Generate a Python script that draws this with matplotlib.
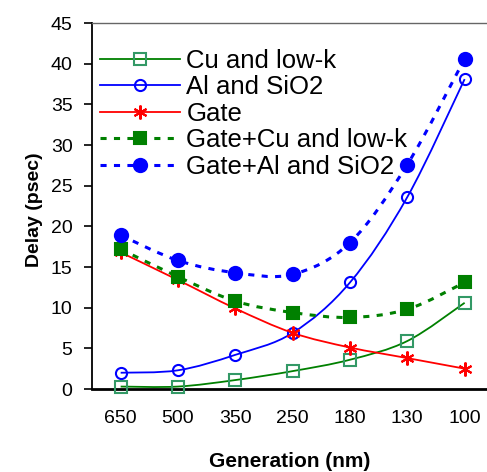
import matplotlib
matplotlib.use("Agg")
import matplotlib.pyplot as plt
import numpy as np
from matplotlib.path import Path
from matplotlib.patches import PathPatch
from matplotlib.lines import Line2D

plt.rcParams['font.family'] = ['Liberation Sans', 'DejaVu Sans']

generations = ['650', '500', '350', '250', '180', '130', '100']
cu_lowk = [0.3, 0.3, 1.1, 2.2, 3.6, 5.9, 10.6]
al_sio2 = [2.0, 2.3, 4.2, 6.9, 13.1, 23.6, 38.1]
gate = [16.8, 13.4, 9.9, 6.9, 5.1, 3.8, 2.5]
gate_cu = [17.2, 13.8, 10.8, 9.4, 8.8, 9.8, 13.1]
gate_al = [18.9, 15.8, 14.3, 14.1, 18.0, 27.6, 40.6]


def smooth_path(xs, ys):
    # Catmull-Rom style bezier, like Excel's smoothed lines
    pts = np.column_stack([xs, ys]).astype(float)
    n = len(pts)
    verts = [pts[0]]
    codes = [Path.MOVETO]
    for i in range(n - 1):
        p0 = pts[max(i - 1, 0)]
        p1 = pts[i]
        p2 = pts[i + 1]
        p3 = pts[min(i + 2, n - 1)]
        verts += [p1 + (p2 - p0) / 6, p2 - (p3 - p1) / 6, p2]
        codes += [Path.CURVE4] * 3
    return Path(verts, codes)


fig = plt.figure(figsize=(4.87, 4.72), dpi=100)
ax = fig.add_axes([92 / 487, 1 - 389 / 472, 1 - 92 / 487, 366 / 472])
x = np.arange(len(generations))

dash = (0, (2.0, 2.4))
series = [
    (cu_lowk, '#008000', '-', 1.3, 's', 8, 'none', '#339966', 'Cu and low-k'),
    (al_sio2, '#0000FF', '-', 1.3, 'o', 8, 'none', '#0000FF', 'Al and SiO2'),
    (gate, '#FF0000', '-', 1.3, (6, 2, 0), 10, '#FF0000', '#FF0000', 'Gate'),
    (gate_cu, '#008000', dash, 2.2, 's', 9, '#008000', '#008000', 'Gate+Cu and low-k'),
    (gate_al, '#0000FF', dash, 2.2, 'o', 9.5, '#0000FF', '#0000FF', 'Gate+Al and SiO2'),
]

handles = []
for vals, col, ls, lw, mk, ms, mfc, mec, lab in series:
    ax.add_patch(PathPatch(smooth_path(x, vals), fill=False, edgecolor=col,
                           linestyle=ls, linewidth=lw, zorder=2))
    ax.plot(x, vals, ls='none', marker=mk, markersize=ms, markerfacecolor=mfc,
            markeredgecolor=mec, markeredgewidth=1.5, zorder=3, clip_on=False)
    handles.append(Line2D([], [], color=col, linestyle=ls, linewidth=lw, marker=mk,
                          markersize=ms, markerfacecolor=mfc, markeredgecolor=mec,
                          markeredgewidth=1.5, label=lab))

ax.set_xlim(-0.5, 6.39)
ax.set_ylim(0, 45)
ax.set_yticks(range(0, 46, 5))
ax.set_xticks(x)
ax.set_xticklabels(generations)
ax.tick_params(axis='x', length=0, pad=15, labelsize=14)
ax.tick_params(axis='y', length=6, width=1.2, pad=8, labelsize=14)

ax.spines['right'].set_visible(False)
ax.spines['top'].set_color('#666666')
ax.spines['top'].set_linewidth(1)
ax.spines['left'].set_linewidth(1.3)
ax.spines['bottom'].set_linewidth(2)

ax.set_xlabel('Generation (nm)', fontsize=15, fontweight='bold')
ax.set_ylabel('Delay (psec)', fontsize=14, fontweight='bold')
ax.xaxis.set_label_coords(0.5, -0.172)
ax.yaxis.set_label_coords(-0.124, 0.49)

ax.legend(handles=handles, loc='upper left', bbox_to_anchor=(0.02, 0.930), frameon=False,
          fontsize=18.5, handlelength=3.1, handletextpad=0.27, labelspacing=0.1,
          borderaxespad=0, borderpad=0)

fig.savefig('out.png', dpi=100)
